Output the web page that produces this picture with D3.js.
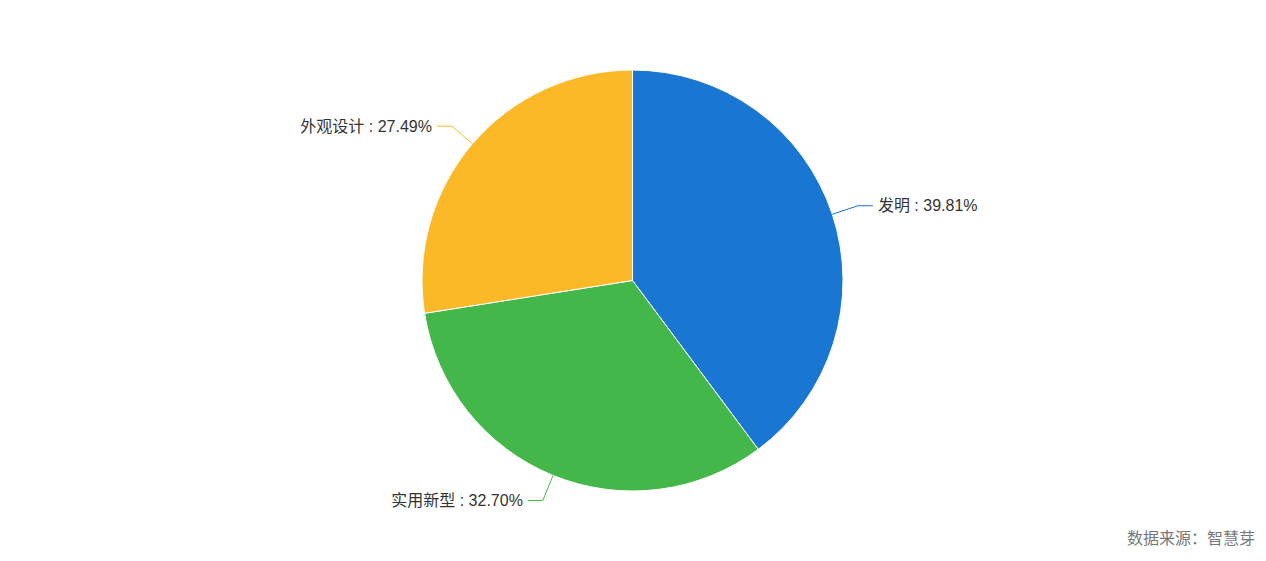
<!DOCTYPE html>
<html>
<head>
<meta charset="utf-8">
<script src="https://cdn.jsdelivr.net/npm/d3@7"></script>
<style>
  body { margin: 0; background: #fff; }
  svg { display: block; font-family: "Liberation Sans", Arial, "Noto Sans CJK SC", sans-serif; }
</style>
</head>
<body>
<svg id="chart"></svg>
<script>
var categories = ["发明", "实用新型", "外观设计"];
var shares = [39.81, 32.70, 27.49];
var colorList = ["#1976d2", "#44b74b", "#fbb928"];
var sourceNote = "数据来源：智慧芽";

var width = 1266, height = 561;
var cx = 632.5, cy = 280.5, radius = 210.5;

var svg = d3.select("#chart")
  .attr("width", width)
  .attr("height", height);

var data = categories.map(function(c, i) { return { name: c, value: shares[i], color: colorList[i] }; });

var pie = d3.pie()
  .sort(null)
  .value(function(d) { return d.value; });

var arc = d3.arc()
  .innerRadius(0)
  .outerRadius(radius);

var g = svg.append("g").attr("transform", "translate(" + cx + "," + cy + ")");

var arcs = pie(data);

g.selectAll("path.slice")
  .data(arcs)
  .enter().append("path")
    .attr("class", "slice")
    .attr("d", arc)
    .attr("fill", function(d) { return d.data.color; })
    .attr("stroke", "#fff")
    .attr("stroke-width", 1);

// label lines: edge point -> elbow -> short horizontal run
var len1 = 27, len2 = 15;
arcs.forEach(function(d) {
  var a = (d.startAngle + d.endAngle) / 2;
  var sx = Math.sin(a), sy = -Math.cos(a);
  var p0 = [radius * sx, radius * sy];
  var p1 = [(radius + len1) * sx, (radius + len1) * sy];
  var right = sx > 0;
  var p2 = [p1[0] + (right ? len2 : -len2), p1[1]];

  g.append("polyline")
    .attr("points", [p0, p1, p2].map(function(p) { return p.join(","); }).join(" "))
    .attr("fill", "none")
    .attr("stroke", d.data.color)
    .attr("stroke-width", 1);

  g.append("text")
    .attr("x", p2[0] + (right ? 5 : -5))
    .attr("y", p2[1])
    .attr("dy", "0.35em")
    .attr("text-anchor", right ? "start" : "end")
    .style("font-size", "16px")
    .style("fill", "#333")
    .text(d.data.name + " : " + d.data.value.toFixed(2) + "%");
});

svg.append("text")
  .attr("x", 1255)
  .attr("y", 538)
  .attr("dy", "0.35em")
  .attr("text-anchor", "end")
  .style("font-size", "16px")
  .style("fill", "#777")
  .text(sourceNote);
</script>
</body>
</html>
